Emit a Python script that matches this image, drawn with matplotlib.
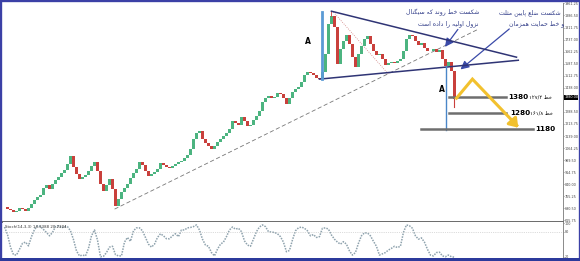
import matplotlib
matplotlib.use('Agg')
import matplotlib.pyplot as plt
from matplotlib.patches import Rectangle

# closing prices, one per candle (left to right)
closes = [698, 686, 679, 667, 673, 692, 686, 673, 692, 717,
          741, 760, 772, 816, 834, 810, 841, 865, 884, 909,
          927, 965, 1014, 946, 903, 872, 884, 896, 921, 952,
          977, 921, 841, 797, 834, 872, 810, 704, 748, 791,
          816, 841, 878, 909, 934, 977, 958, 921, 890, 903,
          915, 934, 971, 958, 946, 940, 952, 965, 977, 983,
          1002, 1020, 1058, 1120, 1157, 1169, 1120, 1095, 1076, 1058,
          1076, 1101, 1120, 1138, 1157, 1182, 1231, 1219, 1206, 1256,
          1231, 1200, 1206, 1237, 1262, 1293, 1349, 1374, 1386, 1374,
          1380, 1405, 1399, 1374, 1337, 1374, 1411, 1430, 1442, 1473,
          1516, 1535, 1529, 1516, 1498, 1492, 1535, 1647, 1833, 1882,
          1814, 1585, 1678, 1727, 1764, 1709, 1628, 1566, 1647, 1696,
          1740, 1758, 1709, 1665, 1640, 1647, 1616, 1578, 1591, 1597,
          1591, 1603, 1616, 1665, 1740, 1764, 1758, 1727, 1702, 1715,
          1684, 1665, 1665, 1678, 1659, 1671, 1616, 1572, 1597, 1541,
          1368]
peak = (109, 1913)       # highest wick
last_low = (150, 1318)   # lowest wick of last candle

stoch = [91, 73, 43, 25, 24, 38, 52, 55, 46, 68,
         85, 94, 92, 85, 78, 70, 78, 92, 94, 89,
         92, 92, 82, 61, 34, 22, 24, 22, 40, 70,
         84, 60, 20, 21, 30, 43, 45, 25, 22, 22,
         55, 66, 57, 82, 89, 89, 82, 66, 50, 43,
         50, 66, 75, 70, 63, 63, 70, 75, 68, 84,
         84, 89, 90, 92, 96, 84, 62, 48, 45, 30,
         22, 38, 50, 55, 68, 84, 91, 86, 88, 80,
         58, 48, 45, 62, 80, 91, 96, 92, 80, 79,
         78, 75, 68, 55, 32, 35, 60, 82, 89, 91,
         88, 82, 70, 73, 66, 68, 88, 89, 86, 72,
         62, 55, 50, 56, 50, 34, 24, 30, 52, 70,
         77, 77, 70, 57, 45, 24, 27, 30, 36, 40,
         45, 42, 45, 78, 96, 94, 88, 70, 62, 65,
         55, 38, 24, 22, 30, 31, 22, 20, 24, 20,
         19]

price_ticks = [615.75, 690.50, 765.25, 840.00, 914.75, 989.50, 1064.25, 1139.00,
               1213.75, 1288.50, 1438.00, 1512.75, 1587.50, 1662.25, 1737.00,
               1811.75, 1886.50, 1961.25]
stoch_ticks = [20, 80, 100]
targets = [1380, 1280, 1180]
fib_labels = ['۱۲۷/۲', '۱۶۱/۸']

# simple persian shaping (matplotlib has no arabic shaper)
FORMS = {
    'ا': '\uFE8D\uFE8E', 'د': '\uFEA9\uFEAA', 'ر': '\uFEAD\uFEAE',
    'ز': '\uFEAF\uFEB0', 'و': '\uFEED\uFEEE',
    'پ': '\uFB56\uFB57\uFB58\uFB59', 'ت': '\uFE95\uFE96\uFE97\uFE98',
    'ث': '\uFE99\uFE9A\uFE9B\uFE9C', 'ح': '\uFEA1\uFEA2\uFEA3\uFEA4',
    'خ': '\uFEA5\uFEA6\uFEA7\uFEA8', 'س': '\uFEB1\uFEB2\uFEB3\uFEB4',
    'ش': '\uFEB5\uFEB6\uFEB7\uFEB8', 'ض': '\uFEBD\uFEBE\uFEBF\uFEC0',
    'ط': '\uFEC1\uFEC2\uFEC3\uFEC4', 'ع': '\uFEC9\uFECA\uFECB\uFECC',
    'ل': '\uFEDD\uFEDE\uFEDF\uFEE0', 'م': '\uFEE1\uFEE2\uFEE3\uFEE4',
    'ن': '\uFEE5\uFEE6\uFEE7\uFEE8', 'ه': '\uFEE9\uFEEA\uFEEB\uFEEC',
    'ک': '\uFB8E\uFB8F\uFB90\uFB91', 'گ': '\uFB92\uFB93\uFB94\uFB95',
    'ی': '\uFBFC\uFBFD\uFBFE\uFBFF',
}


def fa(text):
    out = []
    for k, ch in enumerate(text):
        f = FORMS.get(ch)
        if f is None:
            out.append(ch)
            continue
        prev = text[k - 1] if k > 0 else ''
        nxt = text[k + 1] if k + 1 < len(text) else ''
        jp = prev in FORMS and len(FORMS[prev]) == 4
        jn = len(f) == 4 and nxt in FORMS
        out.append(f[{(0, 0): 0, (1, 0): 1, (0, 1): 2, (1, 1): 3}[(int(jp), int(jn))]])
    return ''.join(reversed(out))


W, H = 580, 261
fig = plt.figure(figsize=(W / 100, H / 100), dpi=100)
fig.patch.set_facecolor('white')

left, right = 3 / W, 563 / W
ax = fig.add_axes([left, 1 - 222 / H, right - left, 219 / H])
ax2 = fig.add_axes([left, 1 - 258 / H, right - left, 36 / H])

n = len(closes)
opens = [closes[0]] + closes[:-1]
up_c, dn_c = '#4cb480', '#c9403c'
for i in range(n):
    o, c = opens[i], closes[i]
    col = up_c if c >= o else dn_c
    lo, hi = min(o, c), max(o, c)
    ax.bar(i, max(hi - lo, 4), bottom=lo, width=0.8, color=col, linewidth=0, zorder=3)
ax.plot([peak[0], peak[0]], [closes[peak[0]], peak[1]], color=dn_c, lw=0.6, zorder=3)
ax.plot([last_low[0], last_low[0]], [closes[last_low[0]], last_low[1]], color=dn_c, lw=0.8, zorder=3)

# trend lines / triangle
navy = '#2f3475'
ax.plot([109, 170.7], [1913, 1628], color=navy, lw=1.1, zorder=4)
ax.plot([105, 171.3], [1492, 1609], color=navy, lw=1.1, zorder=4)
ax.plot([36.7, 158], [686, 1802], color='#777777', lw=0.6, ls=(0, (5, 3)), zorder=2)
ax.plot([109.7, 128], [1907, 1523], color='#d08080', lw=0.6, ls=':', zorder=2)

# measured move "A"
ax.plot([105.7, 105.7], [1907, 1492], color='#5b9bd5', lw=2, zorder=4)
ax.plot([147.3, 147.3], [1572, 1175], color='#4a86c8', lw=1, zorder=4)
ax.text(101, 1727, 'A', fontsize=5.5, fontweight='bold', ha='center', va='center')
ax.text(145.8, 1430, 'A', fontsize=5.5, fontweight='bold', ha='center', va='center')

# target lines
spans = [(148.3, 167.3), (148.3, 167.3), (139, 176.3)]
for t, (x0, x1) in zip(targets, spans):
    ax.plot([x0, x1], [t, t], color='#6e6e6e', lw=1.8, zorder=4)
ax.text(168.0, 1380, str(targets[0]), fontsize=5.2, fontweight='bold', va='center', ha='left')
ax.text(168.5, 1280, str(targets[1]), fontsize=5.2, fontweight='bold', va='center', ha='left')
ax.text(176.8, 1180, str(targets[2]), fontsize=5.2, fontweight='bold', va='center', ha='left')
ax.text(174.8, 1380, fib_labels[0] + ' ' + fa('خط'), fontsize=3.8, va='center', ha='left')
ax.text(175.2, 1280, fib_labels[1] + ' ' + fa('خط'), fontsize=3.8, va='center', ha='left')

# projected path
gold = '#f2c12e'
ax.plot([150.7, 156, 170.8], [1374, 1492, 1205], color=gold, lw=2.2, zorder=5,
        solid_joinstyle='miter')
ax.annotate('', xy=(171.9, 1178), xytext=(169.5, 1228),
            arrowprops=dict(arrowstyle='-|>,head_length=0.5,head_width=0.35',
                            color=gold, lw=2.2), zorder=5)

# notes
blue_txt = '#2e3a87'
ax.text(146, 1907, fa('شکست خط روند که سیگنال'), fontsize=4.4, color=blue_txt,
        ha='center', va='center')
ax.text(148, 1839, fa('نزول اولیه را داده است'), fontsize=4.4, color=blue_txt,
        ha='center', va='center')
ax.text(175.3, 1907, fa('شکست ضلع پایین مثلث'), fontsize=4.4, color=blue_txt,
        ha='center', va='center')
ax.text(177.3, 1839, fa('و خط حمایت همزمان'), fontsize=4.4, color=blue_txt,
        ha='center', va='center')
arr = dict(arrowstyle='-|>,head_length=0.5,head_width=0.25', color='#3a4aa8', lw=0.9)
ax.annotate('', xy=(146.3, 1678), xytext=(151.7, 1814), arrowprops=arr)
ax.annotate('', xy=(151.3, 1541), xytext=(169, 1814), arrowprops=arr)

ax.set_xlim(-0.5, 186.2)
ax.set_ylim(606, 1964)
ax.yaxis.tick_right()
ax.set_yticks(price_ticks)
ax.set_yticklabels(['%.2f' % v for v in price_ticks])
ax.set_xticks([])
ax.tick_params(axis='y', labelsize=2.4, length=1.0, width=0.4, pad=0.5, colors='#444444')
ax.text(1.002, (1380 - 606) / (1964 - 606), '1380.00', transform=ax.transAxes,
        fontsize=2.4, color='white', va='center', ha='left',
        bbox=dict(boxstyle='square,pad=0.15', fc='black', ec='none'))
for s in ['left', 'top']:
    ax.spines[s].set_visible(False)
ax.spines['right'].set_color('#8a8a8a')
ax.spines['right'].set_linewidth(0.7)
ax.spines['bottom'].set_color('#6a6a6a')
ax.spines['bottom'].set_linewidth(1.4)

# stochastic panel
ax2.plot(range(n), stoch, color='#8ea2ad', lw=1.1, ls=(0, (1, 0.8)))
ax2.axhline(80, color='#bbbbbb', lw=0.5, ls=':')
ax2.set_xlim(-0.5, 186.2)
ax2.set_ylim(17, 103)
ax2.yaxis.tick_right()
ax2.set_yticks(stoch_ticks)
ax2.set_xticks([])
ax2.tick_params(axis='y', labelsize=2.4, length=1.0, width=0.4, pad=0.5, colors='#444444')
for s in ['left', 'top', 'bottom']:
    ax2.spines[s].set_visible(False)
ax2.spines['right'].set_color('#8a8a8a')
ax2.spines['right'].set_linewidth(0.7)
ax2.text(0.004, 0.93, 'Stoch(14,3,3) 14.3388 20.2304', transform=ax2.transAxes,
         fontsize=2.8, color='#333333', va='top', ha='left')

# window frame
fig.patches.append(Rectangle((0, 0), 1, 1, transform=fig.transFigure, fill=False,
                             ec='#3b40a6', lw=2.4, zorder=10))
fig.patches.append(Rectangle((0, 0), 1, 3 / H, transform=fig.transFigure,
                             fc='#2c3a9c', ec='none', zorder=10))

fig.savefig('out.png', dpi=100)
